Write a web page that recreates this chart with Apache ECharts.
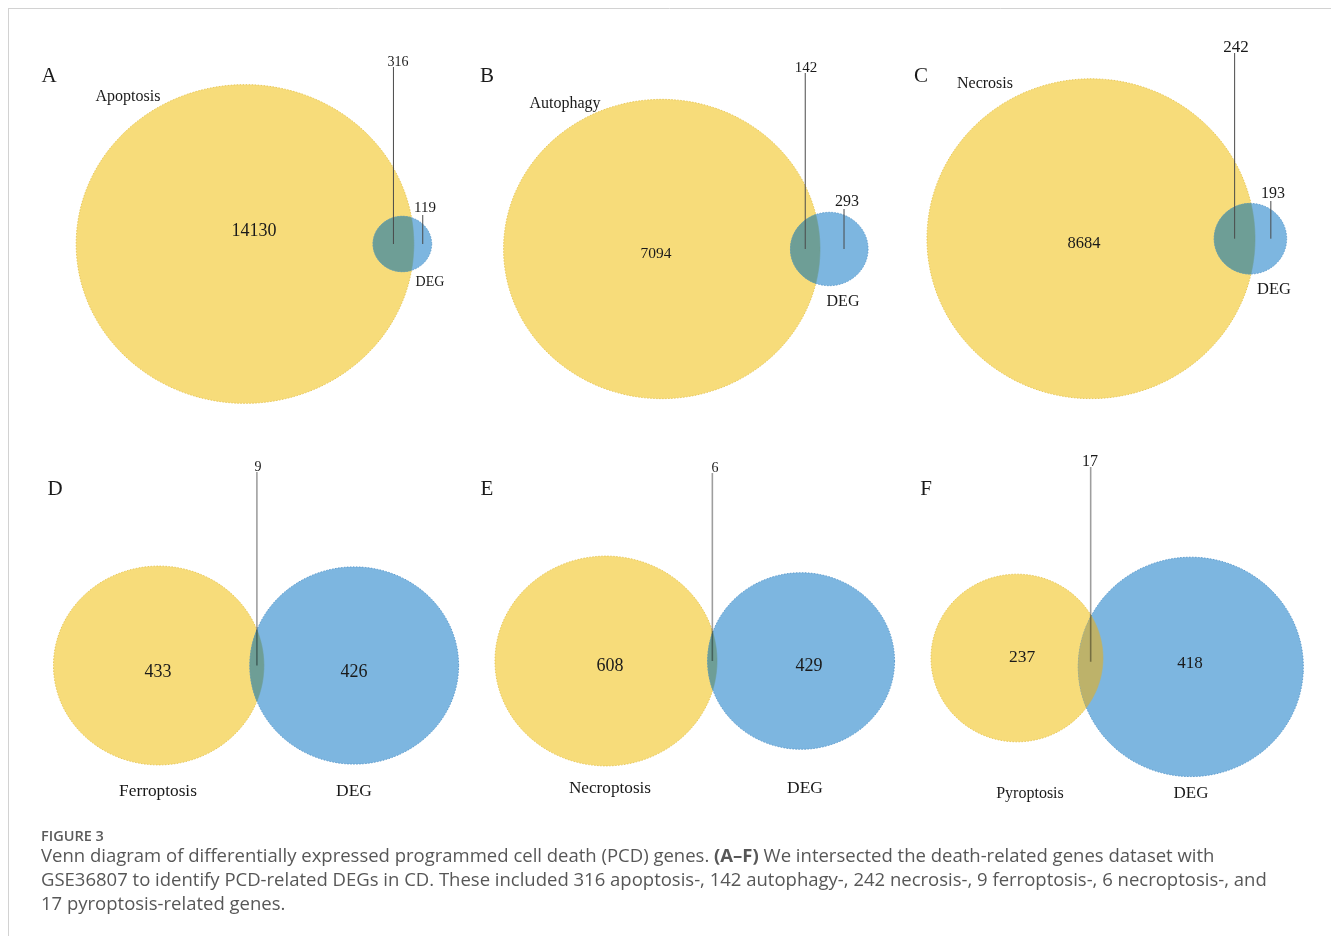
<!DOCTYPE html>
<html>
<head>
<meta charset="utf-8">
<script src="https://cdn.jsdelivr.net/npm/echarts@6/dist/echarts.min.js"></script>
<style>
  html, body { margin: 0; padding: 0; background: #ffffff; }
  #chart { width: 1331px; height: 936px; }
</style>
</head>
<body>
<div id="chart"></div>
<script>
// ---- Gene-set counts for each Venn panel ----
const panelLetters   = ['A', 'B', 'C', 'D', 'E', 'F'];
const pcdSetNames    = ['Apoptosis', 'Autophagy', 'Necrosis', 'Ferroptosis', 'Necroptosis', 'Pyroptosis'];
const pcdOnlyCounts  = [14130, 7094, 8684, 433, 608, 237];
const sharedCounts   = [316, 142, 242, 9, 6, 17];
const degOnlyCounts  = [119, 293, 193, 426, 429, 418];
const degSetName     = 'DEG';

const captionTitle = 'FIGURE 3';
const captionLines = [
  'Venn diagram of differentially expressed programmed cell death (PCD) genes. {b|(A\u2013F)} We intersected the death-related genes dataset with',
  'GSE36807 to identify PCD-related DEGs in CD. These included 316 apoptosis-, 142 autophagy-, 242 necrosis-, 9 ferroptosis-, 6 necroptosis-, and',
  '17 pyroptosis-related genes.'
];

// ---- Styling ----
const YELLOW = '#F7DC7A', YELLOW_EDGE = '#E9C95C';
const BLUE = '#7DB6E0', BLUE_EDGE = '#5F9DCF';
const SERIF = '"Liberation Serif", "Times New Roman", serif';
const SANS = '"Open Sans", "Noto Sans", sans-serif';
const CAPTION_SIZE = 18.5;

// Per-panel placement: centre of the PCD circle, radius of the larger circle,
// vertical squash, tilt of the centre line, overlap colour and text anchors [x, y, fontSize].
const panelLayout = [
  { center: [245, 244], rMax: 168.8, aspect: 0.944, tilt: 0, lens: '#6E9E96', dark: true,
    letter: [49, 76], name: [128, 97, 16], only: [254, 231, 18], shared: [398, 62, 14],
    deg: [425, 208, 15], degName: [430, 282, 14], degLeader: true },
  { center: [661.8, 249], rMax: 158.2, aspect: 0.946, tilt: 0, lens: '#6E9E96', dark: true,
    letter: [487, 76], name: [565, 104, 16], only: [656, 254, 15.5], shared: [806, 68, 15],
    deg: [847, 202, 16], degName: [843, 302, 16], degLeader: true },
  { center: [1091, 238.7], rMax: 164, aspect: 0.975, tilt: 0, lens: '#6E9E96', dark: true,
    letter: [921, 76], name: [985, 84, 16], only: [1084, 244, 16.5], shared: [1236, 48, 17],
    deg: [1273, 194, 16], degName: [1274, 290, 16.5], degLeader: true },
  { center: [158.7, 665.5], rMax: 105.2, aspect: 0.945, tilt: 0, lens: '#6E9E96', dark: false,
    letter: [55, 489], name: [158, 791, 17.3], only: [158, 672, 18], shared: [258, 467, 14],
    deg: [354, 672, 18], degName: [354, 791, 17.5], degLeader: false },
  { center: [606, 661], rMax: 111, aspect: 0.945, tilt: 0, lens: '#6E9E96', dark: false,
    letter: [487, 489], name: [610, 788, 17.2], only: [610, 666, 18], shared: [715, 468, 14],
    deg: [809, 666, 18], degName: [805, 788, 17.5], degLeader: false },
  { center: [1017, 658], rMax: 112.5, aspect: 0.975, tilt: 3.0, lens: '#BDB26A', dark: false,
    letter: [926, 489], name: [1030, 794, 16], only: [1022, 657, 17.5], shared: [1090, 462, 16],
    deg: [1190, 664, 17], degName: [1191, 794, 17], degLeader: false }
];

// ---- Area-proportional two-set geometry ----
function lensArea(d, r1, r2) {
  if (d >= r1 + r2) return 0;
  if (d <= Math.abs(r1 - r2)) return Math.PI * Math.min(r1, r2) ** 2;
  const a1 = Math.acos((d * d + r1 * r1 - r2 * r2) / (2 * d * r1));
  const a2 = Math.acos((d * d + r2 * r2 - r1 * r1) / (2 * d * r2));
  return r1 * r1 * a1 + r2 * r2 * a2 -
    0.5 * Math.sqrt((-d + r1 + r2) * (d + r1 - r2) * (d - r1 + r2) * (d + r1 + r2));
}
function solveDistance(r1, r2, target) {
  let lo = Math.abs(r1 - r2), hi = r1 + r2;
  for (let k = 0; k < 100; k++) {
    const mid = (lo + hi) / 2;
    if (lensArea(mid, r1, r2) > target) lo = mid; else hi = mid;
  }
  return (lo + hi) / 2;
}
const geometry = panelLetters.map((_, i) => {
  const nPcd = pcdOnlyCounts[i] + sharedCounts[i];
  const nDeg = degOnlyCounts[i] + sharedCounts[i];
  const k = panelLayout[i].rMax / Math.sqrt(Math.max(nPcd, nDeg));
  const r1 = k * Math.sqrt(nPcd), r2 = k * Math.sqrt(nDeg);
  const d = solveDistance(r1, r2, Math.PI * k * k * sharedCounts[i]);
  return { r1, r2, d };
});

function renderPanel(params, api) {
  const i = api.value(0);
  const L = panelLayout[i], G = geometry[i];
  const th = L.tilt * Math.PI / 180, cs = Math.cos(th), sn = Math.sin(th);
  // local frame: u along the line of centres (origin = PCD centre), v across it
  const P = (u, v) => api.coord([L.center[0] + u * cs - v * sn, L.center[1] + (u * sn + v * cs) * L.aspect]);
  const px = r => api.size([r, 0])[0];
  const circlePts = (u0, r) => {
    const pts = [];
    for (let k = 0; k < 360; k++) {
      const t = k / 360 * Math.PI * 2;
      pts.push(P(u0 + px(r) * Math.cos(t), px(r) * Math.sin(t)));
    }
    return pts;
  };
  const { r1, r2, d } = G;
  const a = (d * d + r1 * r1 - r2 * r2) / (2 * d);
  const h = Math.sqrt(Math.max(r1 * r1 - a * a, 0));
  const beta = Math.atan2(h, a - d), gamma = Math.atan2(h, a);
  const lens = [];
  const N = 120;
  for (let k = 0; k <= N; k++) {
    const t = beta + (2 * Math.PI - 2 * beta) * k / N;
    lens.push(P(d + r2 * Math.cos(t), r2 * Math.sin(t)));
  }
  for (let k = 0; k <= N; k++) {
    const t = -gamma + 2 * gamma * k / N;
    lens.push(P(r1 * Math.cos(t), r1 * Math.sin(t)));
  }

  const children = [
    { type: 'polygon', shape: { points: circlePts(0, r1) },
      style: { fill: YELLOW, stroke: YELLOW_EDGE, lineWidth: 1, lineDash: [1.5, 1.5] } },
    { type: 'polygon', shape: { points: circlePts(d, r2) },
      style: { fill: BLUE, stroke: BLUE_EDGE, lineWidth: 1, lineDash: [1.5, 1.5] } },
    { type: 'polygon', shape: { points: lens },
      style: { fill: L.lens, stroke: L.lens, lineWidth: 0.6 } }
  ];

  const lineStyle = L.dark
    ? { stroke: '#4a4a4a', lineWidth: 1 }
    : { stroke: 'rgba(0,0,0,0.38)', lineWidth: 1.6 };
  // leader from the shared count down into the overlap
  const lensMid = P(((d - r2) + r1) / 2, 0);
  const sharedTop = api.coord([lensMid[0], L.shared[1] + 5]);
  children.push({ type: 'line', shape: { x1: lensMid[0], y1: sharedTop[1], x2: lensMid[0], y2: lensMid[1] }, style: lineStyle });
  if (L.degLeader) {
    const degMid = P((r1 + d + r2) / 2, 0);
    const degTop = api.coord([degMid[0], L.deg[1] + 7]);
    children.push({ type: 'line', shape: { x1: degMid[0], y1: degTop[1], x2: degMid[0], y2: degMid[1] }, style: lineStyle });
  }

  const text = (anchor, str) => {
    const p = api.coord([anchor[0], anchor[1]]);
    return { type: 'text', x: p[0], y: p[1],
      style: { text: String(str), fontFamily: SERIF, fontSize: anchor[2] || 21, fill: '#1a1a1a',
        align: 'center', verticalAlign: 'middle' } };
  };
  children.push(text(L.letter, panelLetters[i]));
  children.push(text(L.name, pcdSetNames[i]));
  children.push(text(L.only, pcdOnlyCounts[i]));
  children.push(text(L.shared, sharedCounts[i]));
  children.push(text(L.deg, degOnlyCounts[i]));
  children.push(text(L.degName, degSetName));
  return { type: 'group', children };
}

const chart = echarts.init(document.getElementById('chart'), null, { renderer: 'canvas' });
chart.setOption({
  animation: false,
  backgroundColor: '#ffffff',
  grid: { left: 0, right: 0, top: 0, bottom: 0 },
  xAxis: { type: 'value', min: 0, max: 1331, show: false },
  yAxis: { type: 'value', min: 0, max: 936, inverse: true, show: false },
  series: [{
    type: 'custom',
    silent: true,
    clip: false,
    renderItem: renderPanel,
    data: panelLetters.map((_, i) => ({ value: [i] }))
  }],
  graphic: [
    { type: 'line', shape: { x1: 8, y1: 8.5, x2: 1331, y2: 8.5 }, style: { stroke: '#d2d2d2', lineWidth: 1 } },
    { type: 'line', shape: { x1: 8.5, y1: 8, x2: 8.5, y2: 936 }, style: { stroke: '#d2d2d2', lineWidth: 1 } },
    { type: 'text', x: 41, y: 837,
      style: { text: captionTitle, font: '600 14.5px ' + SANS, fill: '#5c5c5c', verticalAlign: 'middle' } },
    ...captionLines.map((line, k) => ({
      type: 'text', x: 41, y: 857 + k * 24,
      style: { text: line, fontFamily: SANS, fontSize: CAPTION_SIZE, fill: '#575757', verticalAlign: 'middle',
        rich: { b: { fontFamily: SANS, fontSize: CAPTION_SIZE, fontWeight: 'bold', fill: '#575757' } } }
    }))
  ]
});
</script>
</body>
</html>
